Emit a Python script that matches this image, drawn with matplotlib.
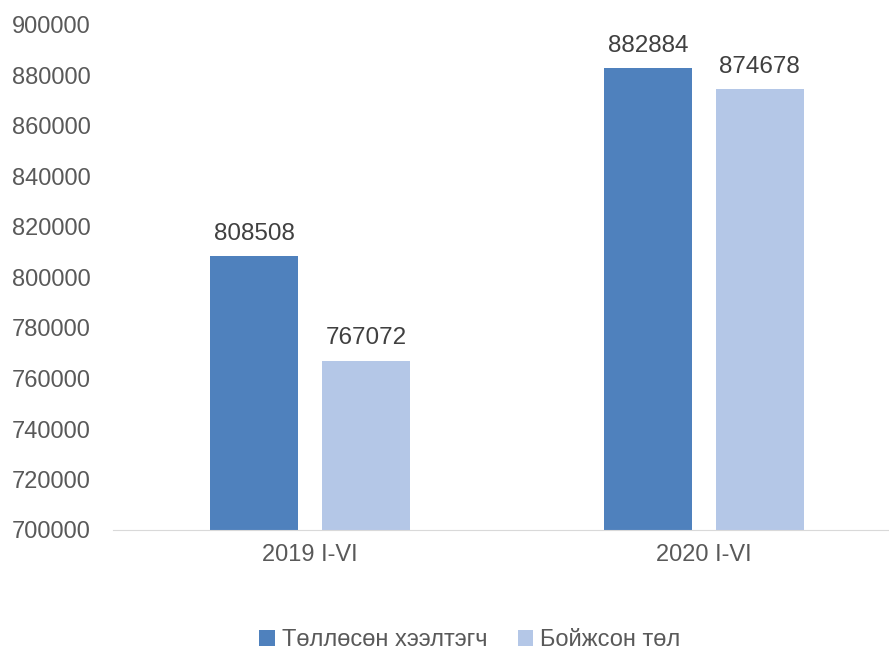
import numpy as np
import matplotlib.pyplot as plt

plt.rcParams['font.family'] = ['Liberation Sans', 'DejaVu Sans']

categories = ['2019 I-VI', '2020 I-VI']
series_names = ['Төллөсөн хээлтэгч', 'Бойжсон төл']
births = [808508, 882884]
survived = [767072, 874678]
colors = ['#4F81BD', '#B4C7E7']

fig = plt.figure(figsize=(8.89, 6.53), dpi=100)
ax = fig.add_axes([113/889, 123/653, 1 - 113/889, 505/653])

x = np.arange(len(categories))
w = 0.223
off = 0.142
for vals, name, c, dx in [(births, series_names[0], colors[0], -off),
                          (survived, series_names[1], colors[1], off)]:
    bars = ax.bar(x + dx, vals, w, color=c, label=name)
    for b, v in zip(bars, vals):
        ax.text(b.get_x() + b.get_width()/2, v + 4500, str(v),
                ha='center', va='bottom', fontsize=17.5, color='#404040')

ax.set_xlim(-0.5, 1.47)
ax.set_ylim(700000, 900000)
ax.set_yticks(np.arange(700000, 900001, 20000))
ax.set_yticklabels([str(t) for t in range(700000, 900001, 20000)])
ax.set_xticks(x)
ax.set_xticklabels(categories)
ax.tick_params(axis='both', length=0, labelsize=17, labelcolor='#595959')
ax.tick_params(axis='x', pad=10)
ax.tick_params(axis='y', pad=16)
for s in ['top', 'right', 'left']:
    ax.spines[s].set_visible(False)
ax.spines['bottom'].set_color('#D9D9D9')

leg = fig.legend(loc='center', bbox_to_anchor=(470/889, 1 - 640/653), ncol=2,
                 frameon=False, fontsize=17, handlelength=0.65, handleheight=0.65,
                 columnspacing=1.3, handletextpad=0.3)
for t in leg.get_texts():
    t.set_color('#595959')

fig.savefig('out.png', dpi=100)
